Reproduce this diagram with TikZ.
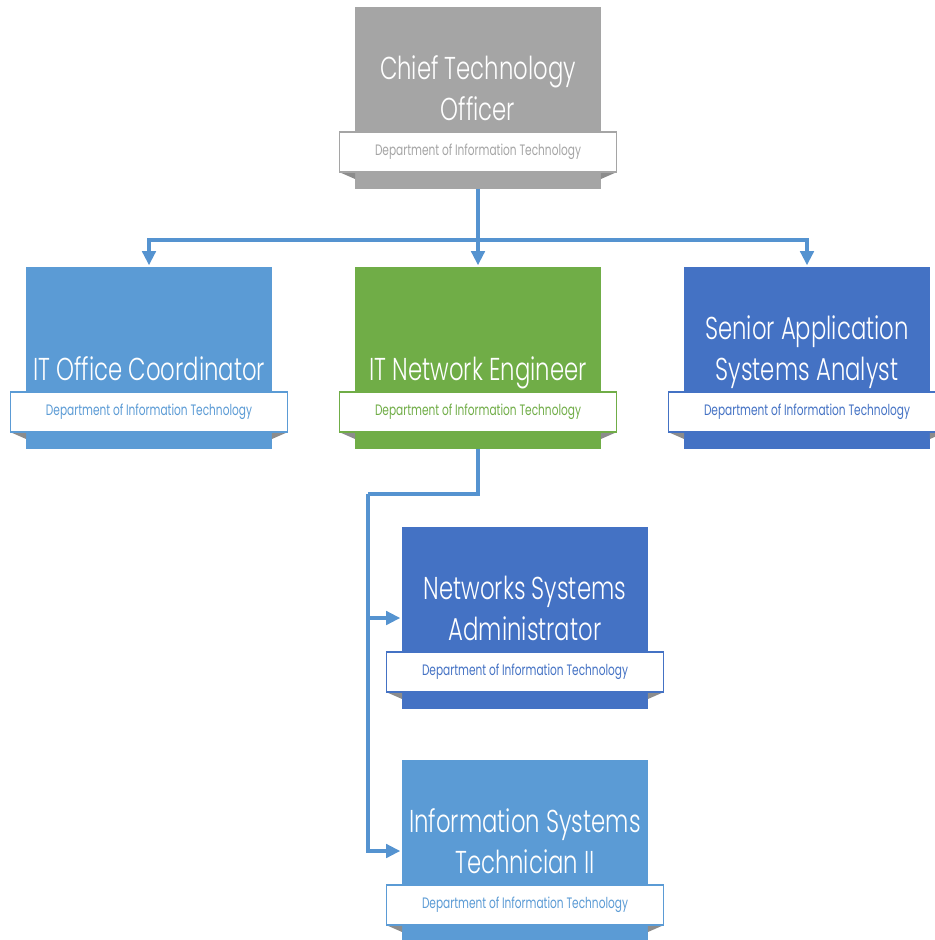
\documentclass[tikz,border=0pt]{standalone}
\usepackage{fontspec}
\setmainfont{Poppins}[FakeStretch=0.72, UprightFont={* Light}]
\newfontfamily\ribbonfont{Poppins}[FakeStretch=0.70]
\usetikzlibrary{arrows.meta}
\definecolor{ctogray}{HTML}{A5A5A5}
\definecolor{ltblue}{HTML}{5B9BD5}
\definecolor{leafgreen}{HTML}{70AD47}
\definecolor{dkblue}{HTML}{4472C4}
\definecolor{linkblue}{HTML}{5593D0}
\tikzset{
  box/.style={minimum width=4.92cm, minimum height=3.64cm, inner sep=0pt, outer sep=0pt},
  ribbon/.style={fill=white, line width=0.8pt, minimum width=5.54cm, minimum height=0.8cm,
    inner sep=0pt, outer sep=0pt, font=\ribbonfont\fontsize{8.6}{10}\selectfont},
  fold/.style={fill=black!45},
  title/.style={anchor=south, text=white, align=center, inner sep=0pt, text depth=0pt,
    font=\fontsize{18}{23.5}\selectfont},
  link/.style={draw=linkblue, line width=1.9pt},
  arrow/.style={link, shorten >=1pt, -{Triangle[length=8pt, width=7.6pt]}}
}
\begin{document}
\begin{tikzpicture}[x=0.02cm, y=-0.02cm]
\useasboundingbox (0,0) rectangle (935,940);
\clip (0,0) rectangle (935,940);

% Chief Technology Officer
\node[box, fill=ctogray] (cto) at (478,98) {};
\fill[fold] ([xshift=-0.32cm,yshift=0.34cm]cto.south west) -- ([yshift=0.34cm]cto.south west) -- ([yshift=0.2cm]cto.south west) -- cycle;
\fill[fold] ([xshift=0.32cm,yshift=0.34cm]cto.south east) -- ([yshift=0.34cm]cto.south east) -- ([yshift=0.2cm]cto.south east) -- cycle;
\node[ribbon, draw=ctogray, text=ctogray] (cto-r) at ([yshift=0.74cm]cto.south) {Department of Information Technology};
\node[title] (cto-t) at ([yshift=0.22cm]cto-r.north) {Chief Technology\\Officer};

% IT Office Coordinator
\node[box, fill=ltblue] (itoc) at (149,358) {};
\fill[fold] ([xshift=-0.32cm,yshift=0.34cm]itoc.south west) -- ([yshift=0.34cm]itoc.south west) -- ([yshift=0.2cm]itoc.south west) -- cycle;
\fill[fold] ([xshift=0.32cm,yshift=0.34cm]itoc.south east) -- ([yshift=0.34cm]itoc.south east) -- ([yshift=0.2cm]itoc.south east) -- cycle;
\node[ribbon, draw=ltblue, text=ltblue] (itoc-r) at ([yshift=0.74cm]itoc.south) {Department of Information Technology};
\node[title] (itoc-t) at ([yshift=0.22cm]itoc-r.north) {IT Office Coordinator};

% IT Network Engineer
\node[box, fill=leafgreen] (itne) at (478,358) {};
\fill[fold] ([xshift=-0.32cm,yshift=0.34cm]itne.south west) -- ([yshift=0.34cm]itne.south west) -- ([yshift=0.2cm]itne.south west) -- cycle;
\fill[fold] ([xshift=0.32cm,yshift=0.34cm]itne.south east) -- ([yshift=0.34cm]itne.south east) -- ([yshift=0.2cm]itne.south east) -- cycle;
\node[ribbon, draw=leafgreen, text=leafgreen] (itne-r) at ([yshift=0.74cm]itne.south) {Department of Information Technology};
\node[title] (itne-t) at ([yshift=0.22cm]itne-r.north) {IT Network Engineer};

% Senior Application Systems Analyst
\node[box, fill=dkblue] (sasa) at (807,358) {};
\fill[fold] ([xshift=-0.32cm,yshift=0.34cm]sasa.south west) -- ([yshift=0.34cm]sasa.south west) -- ([yshift=0.2cm]sasa.south west) -- cycle;
\fill[fold] ([xshift=0.32cm,yshift=0.34cm]sasa.south east) -- ([yshift=0.34cm]sasa.south east) -- ([yshift=0.2cm]sasa.south east) -- cycle;
\node[ribbon, draw=dkblue, text=dkblue] (sasa-r) at ([yshift=0.74cm]sasa.south) {Department of Information Technology};
\node[title] (sasa-t) at ([yshift=0.22cm]sasa-r.north) {Senior Application\\Systems Analyst};

% Networks Systems Administrator
\node[box, fill=dkblue] (nsa) at (525,618) {};
\fill[fold] ([xshift=-0.32cm,yshift=0.34cm]nsa.south west) -- ([yshift=0.34cm]nsa.south west) -- ([yshift=0.2cm]nsa.south west) -- cycle;
\fill[fold] ([xshift=0.32cm,yshift=0.34cm]nsa.south east) -- ([yshift=0.34cm]nsa.south east) -- ([yshift=0.2cm]nsa.south east) -- cycle;
\node[ribbon, draw=dkblue, text=dkblue] (nsa-r) at ([yshift=0.74cm]nsa.south) {Department of Information Technology};
\node[title] (nsa-t) at ([yshift=0.22cm]nsa-r.north) {Networks Systems\\Administrator};

% Information Systems Technician II
\node[box, fill=ltblue] (ist) at (525,851) {};
\fill[fold] ([xshift=-0.32cm,yshift=0.34cm]ist.south west) -- ([yshift=0.34cm]ist.south west) -- ([yshift=0.2cm]ist.south west) -- cycle;
\fill[fold] ([xshift=0.32cm,yshift=0.34cm]ist.south east) -- ([yshift=0.34cm]ist.south east) -- ([yshift=0.2cm]ist.south east) -- cycle;
\node[ribbon, draw=ltblue, text=ltblue] (ist-r) at ([yshift=0.74cm]ist.south) {Department of Information Technology};
\node[title] (ist-t) at ([yshift=0.22cm]ist-r.north) {Information Systems\\Technician II};

% connectors
\coordinate (bus) at (478,240);
\coordinate (bus2) at (368,494);
\draw[link] (cto.south) -- (bus);
\draw[arrow] (bus) -- (itne.north);
\draw[arrow] (bus) -| (itoc.north);
\draw[arrow] (bus) -| (sasa.north);
\draw[link] (itne.south) |- (bus2);
\draw[arrow] (bus2) |- (nsa.west);
\draw[arrow] (bus2) |- (ist.west);

\end{tikzpicture}
\end{document}
